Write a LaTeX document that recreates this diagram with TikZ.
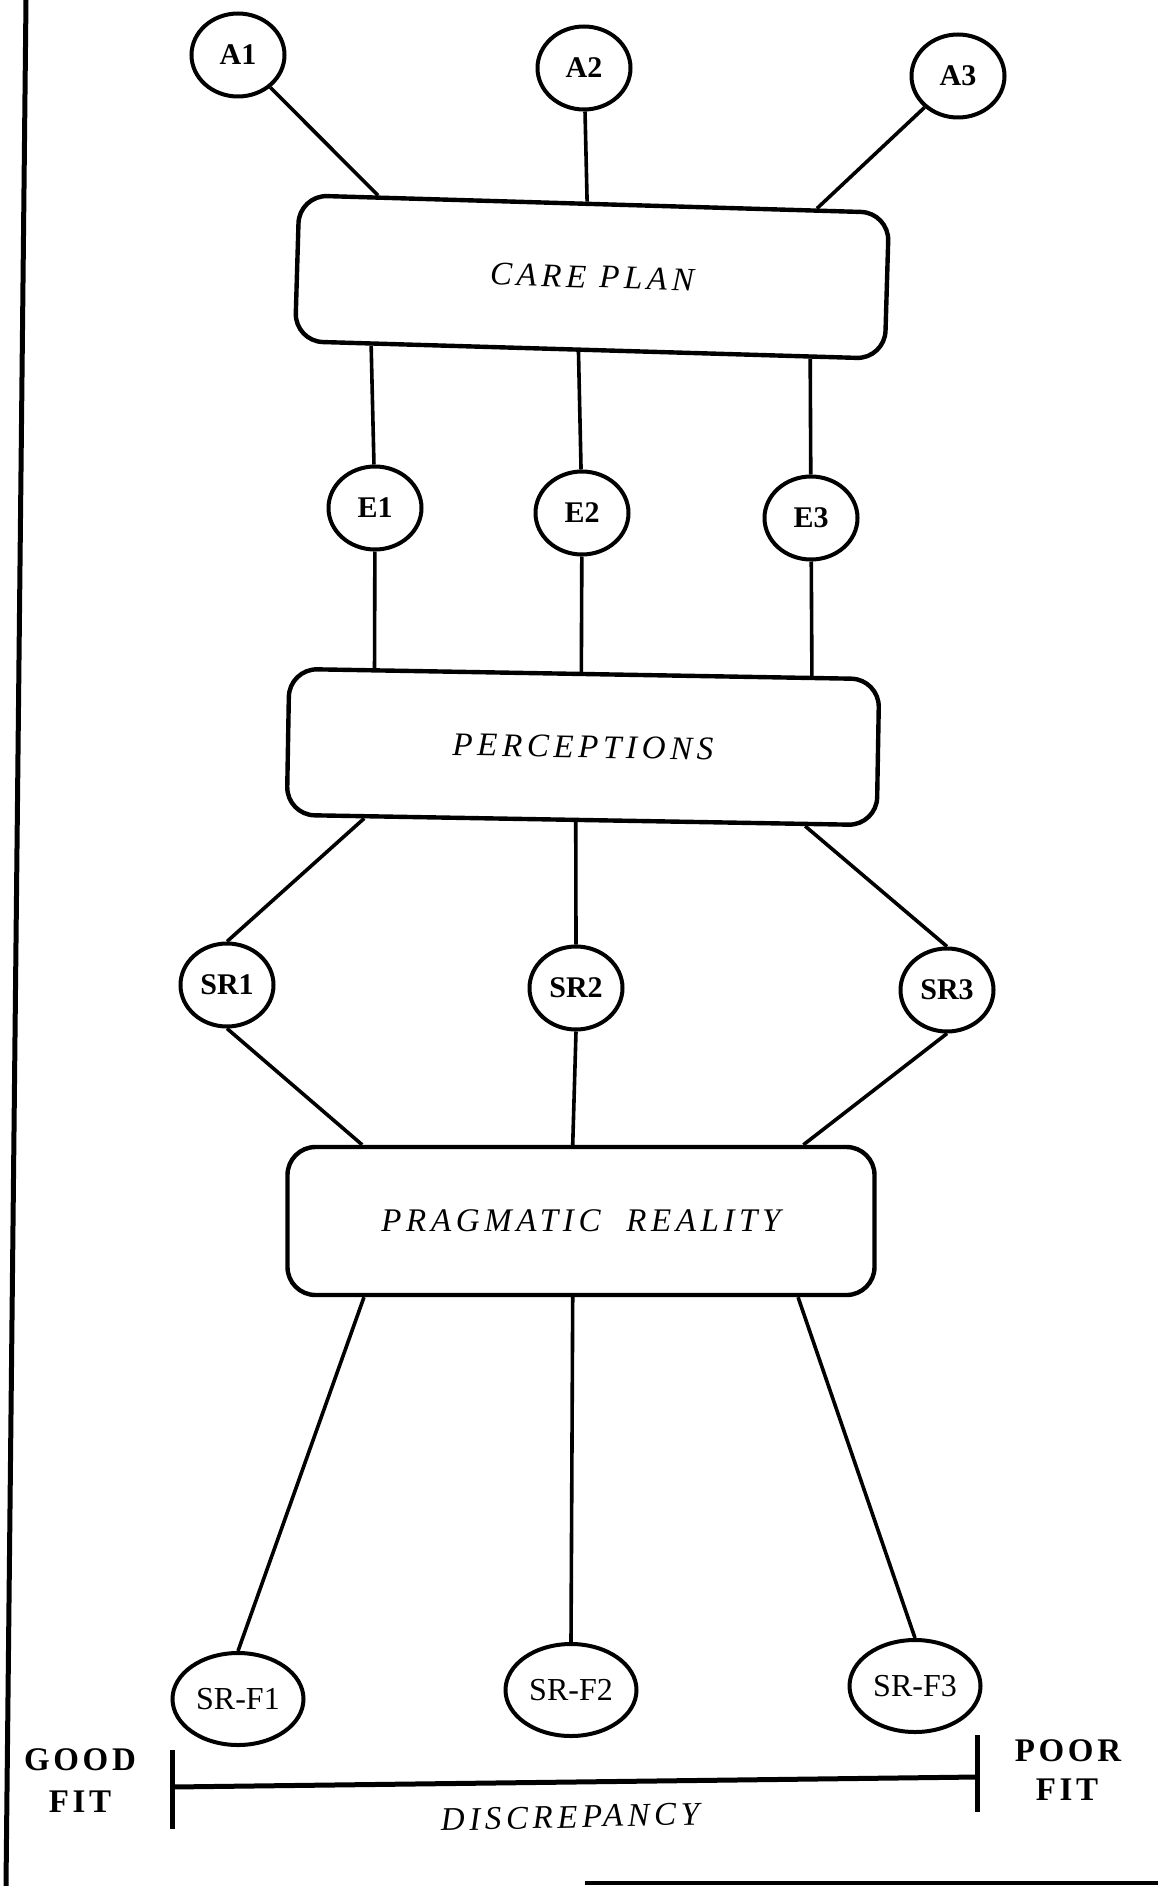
\documentclass[tikz,border=0pt]{standalone}
\usepackage{fontspec}
\setmainfont{Liberation Serif}
\usetikzlibrary{shapes.geometric,calc}

\tikzset{
  leaf/.style={ellipse, draw, line width=4pt, minimum width=93pt,
    minimum height=83pt, inner sep=0pt,
    font=\fontsize{30}{30}\selectfont\bfseries},
  fitnode/.style={ellipse, draw, line width=4pt, minimum width=131pt,
    minimum height=92pt, inner sep=0pt,
    font=\fontsize{32}{32}\selectfont},
  stage/.style={draw, rounded corners=28pt, line width=4.4pt,
    minimum width=590pt, minimum height=146pt, inner sep=0pt,
    font=\fontsize{33}{33}\selectfont\itshape\addfontfeature{LetterSpace=14}},
  caption/.style={inner sep=0pt,
    font=\fontsize{33}{33}\selectfont\itshape\addfontfeature{LetterSpace=14}},
  fitlabel/.style={inner sep=0pt,
    font=\fontsize{33}{33}\selectfont\bfseries\addfontfeature{LetterSpace=11}},
  link/.style={line width=3.6pt},
  bar/.style={line width=5pt}
}

\begin{document}
\begin{tikzpicture}[x=1pt, y=-1pt]
  \useasboundingbox[fill=white] (0,0) rectangle (1158,1886);

  % page frame pieces
  \coordinate (frameT) at (26,0);
  \coordinate (frameB) at (6,1886);
  \coordinate (baseL) at (585,1883);
  \coordinate (baseR) at (1158,1883);
  \draw[bar] (frameT) -- (frameB);
  \draw[line width=4.5pt] (baseL) -- (baseR);

  % aims
  \node[leaf] (A1) at (238,55) {A1};
  \node[leaf] (A2) at (584,68) {A2};
  \node[leaf] (A3) at (958,76) {A3};

  \node[stage, rotate=-1.7] (care) at (592,277) {CARE PLAN};

  % expectations
  \node[leaf] (E1) at (375,508) {E1};
  \node[leaf] (E2) at (582,513) {E2};
  \node[leaf] (E3) at (811,518) {E3};

  \node[stage, rotate=-1] (perc) at (583,747) {PERCEPTIONS};

  % situational responses
  \node[leaf] (SR1) at (227,985) {SR1};
  \node[leaf] (SR2) at (576,988) {SR2};
  \node[leaf] (SR3) at (947,990) {SR3};

  \node[stage, minimum width=587pt, minimum height=148pt] (prag) at (581,1221)
    {PRAGMATIC\ \ REALITY};

  % fitted responses
  \node[fitnode] (F1) at (238,1699) {SR-F1};
  \node[fitnode] (F2) at (571,1690) {SR-F2};
  \node[fitnode] (F3) at (915,1686) {SR-F3};

  % aims to care plan
  \draw[link] (A1) -- ($(care.north west)!0.136!(care.north east)$);
  \draw[link] (A2) -- ($(care.north west)!0.488!(care.north east)$);
  \draw[link] (A3) -- ($(care.north west)!0.875!(care.north east)$);

  % care plan to expectations
  \draw[link] ($(care.south west)!0.132!(care.south east)$) -- (E1);
  \draw[link] ($(care.south west)!0.481!(care.south east)$) -- (E2);
  \draw[link] ($(care.south west)!0.871!(care.south east)$) -- (E3);

  % expectations to perceptions
  \draw[link] (E1) -- ($(perc.north west)!0.147!(perc.north east)$);
  \draw[link] (E2) -- ($(perc.north west)!0.495!(perc.north east)$);
  \draw[link] (E3) -- ($(perc.north west)!0.883!(perc.north east)$);

  % perceptions to situational responses
  \draw[link] ($(perc.south west)!0.134!(perc.south east)$) -- (SR1.north);
  \draw[link] ($(perc.south west)!0.490!(perc.south east)$) -- (SR2.north);
  \draw[link] ($(perc.south west)!0.876!(perc.south east)$) -- (SR3.north);

  % situational responses to pragmatic reality
  \draw[link] (SR1.south) -- ($(prag.north west)!0.130!(prag.north east)$);
  \draw[link] (SR2.south) -- ($(prag.north west)!0.486!(prag.north east)$);
  \draw[link] (SR3.south) -- ($(prag.north west)!0.876!(prag.north east)$);

  % pragmatic reality to fitted responses
  \draw[link] ($(prag.south west)!0.133!(prag.south east)$) -- (F1.north);
  \draw[link] ($(prag.south west)!0.486!(prag.south east)$) -- (F2.north);
  \draw[link] ($(prag.south west)!0.867!(prag.south east)$) -- (F3.north);

  % discrepancy scale
  \coordinate (goodTop) at (172,1750);
  \coordinate (goodBot) at (172,1829);
  \coordinate (poorTop) at (977,1735);
  \coordinate (poorBot) at (977,1812);
  \coordinate (scaleL) at (172,1787);
  \coordinate (scaleR) at (977,1777);
  \draw[bar] (goodTop) -- (goodBot);
  \draw[bar] (poorTop) -- (poorBot);
  \draw[bar] (scaleL) -- (scaleR);

  \node[fitlabel] (good) at (80,1760) {GOOD};
  \node[fitlabel] (goodfit) at (80,1802) {FIT};
  \node[fitlabel] (poor) at (1068,1751) {POOR};
  \node[fitlabel] (poorfit) at (1067,1790) {FIT};
  \node[caption, rotate=1.4] (disc) at (570,1817) {DISCREPANCY};
\end{tikzpicture}
\end{document}
